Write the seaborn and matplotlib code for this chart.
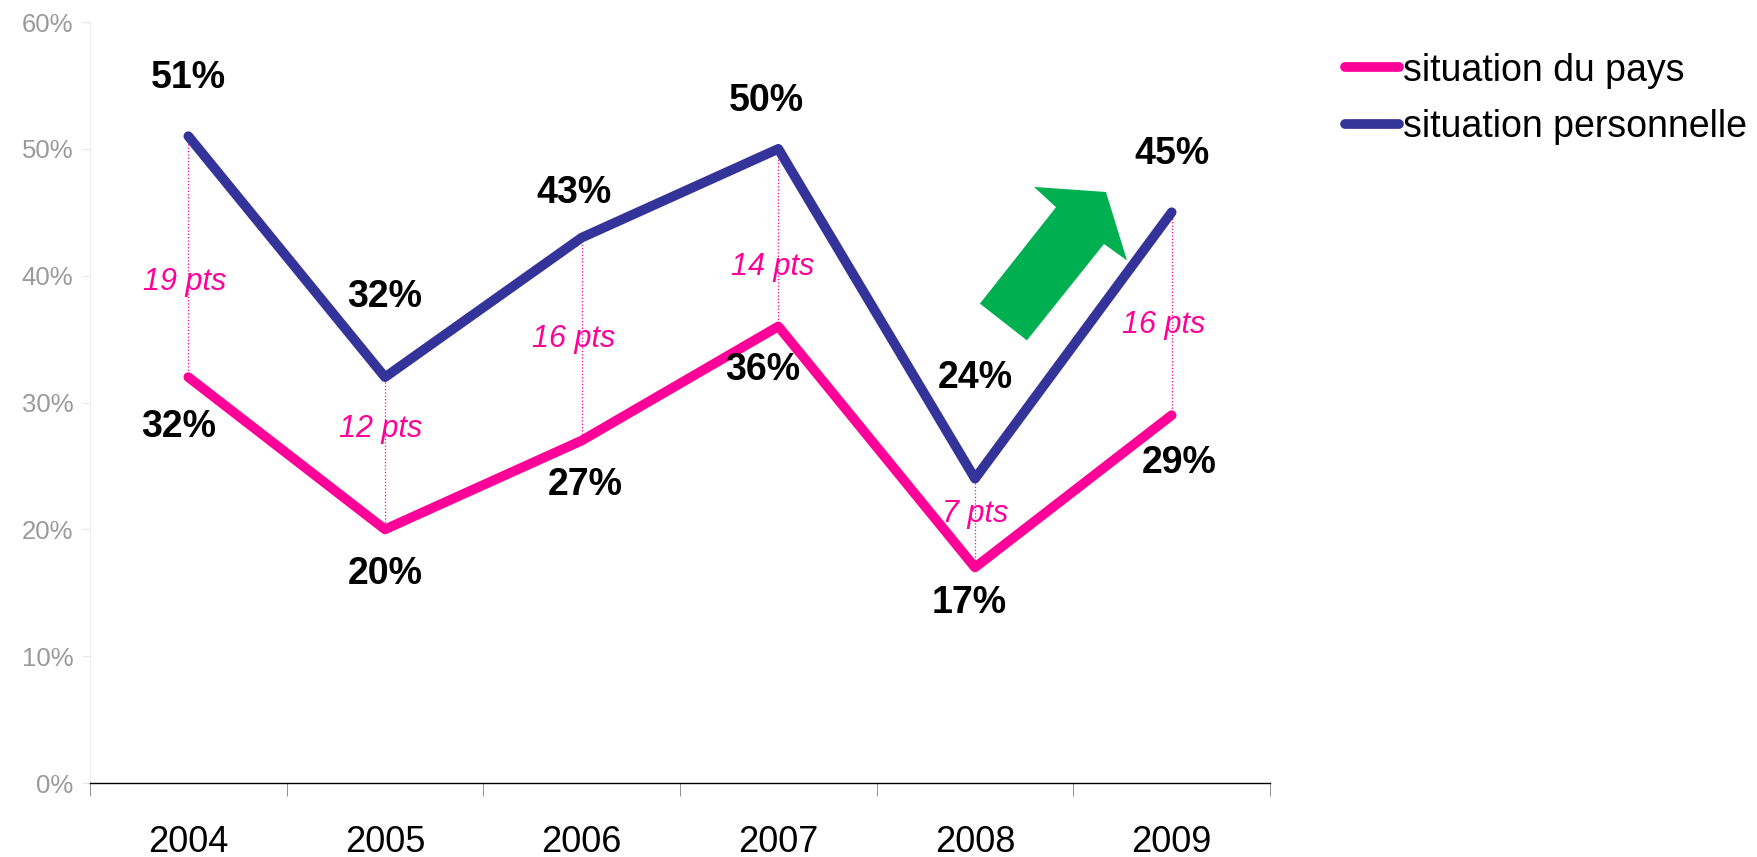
import numpy as np
import pandas as pd
import matplotlib
matplotlib.use("Agg")
import matplotlib.pyplot as plt
from matplotlib.patches import Polygon
from matplotlib.lines import Line2D
import seaborn as sns

# data
years = ["2004", "2005", "2006", "2007", "2008", "2009"]
pays = [32, 20, 27, 36, 17, 29]
perso = [51, 32, 43, 50, 24, 45]
series_names = ["situation du pays", "situation personnelle"]
ecarts = ["19 pts", "12 pts", "16 pts", "14 pts", "7 pts", "16 pts"]

# label placement (data units)
perso_lab_y = [55.6, 38.3, 46.5, 53.8, 31.9, 49.6]
perso_lab_dx = [0, 0, -0.04, -0.06, 0, 0]
pays_lab_y = [28.1, 16.5, 23.5, 32.6, 14.2, 25.2]
pays_lab_dx = [-0.05, 0, 0.02, -0.08, -0.03, 0.04]
ecart_lab_y = [39.5, 27.9, 35.0, 40.7, 21.2, 36.1]
ecart_lab_dx = [-0.02, -0.02, -0.04, -0.03, 0.0, -0.04]

pink = "#FF0099"
blue = "#333399"
green = "#00B050"

df = pd.DataFrame({
    "x": list(range(len(years))) * 2,
    "val": pays + perso,
    "serie": [series_names[0]] * len(years) + [series_names[1]] * len(years),
})

sns.set_style("white")
plt.rcParams["font.family"] = ["Liberation Sans", "DejaVu Sans"]

fig = plt.figure(figsize=(17.58, 8.57), dpi=100)
ax = fig.add_axes([0.0512, 0.0863, 0.6712, 0.888])

sns.lineplot(data=df, x="x", y="val", hue="serie",
             palette=[pink, blue], linewidth=7,
             solid_capstyle="round", ax=ax, legend=False)

# dotted gap lines
ax.vlines(range(len(years)), pays, perso, colors=pink,
          linestyles=":", linewidth=0.9, zorder=1)

for i in range(len(years)):
    ax.text(i + perso_lab_dx[i], perso_lab_y[i], f"{perso[i]}%",
            ha="center", va="center", fontsize=27, fontweight="bold", color="black")
    ax.text(i + pays_lab_dx[i], pays_lab_y[i], f"{pays[i]}%",
            ha="center", va="center", fontsize=27, fontweight="bold", color="black")
    ax.text(i + ecart_lab_dx[i], ecart_lab_y[i], ecarts[i],
            ha="center", va="center", fontsize=22, style="italic", color=pink)

# green arrow
arrow = Polygon([(4.025, 37.8), (4.264, 34.9), (4.656, 42.5), (4.773, 41.2),
                 (4.666, 46.6), (4.300, 47.0), (4.412, 45.4)],
                closed=True, facecolor=green, edgecolor="none", zorder=3)
ax.add_patch(arrow)

ax.set_xlim(-0.5, len(years) - 0.5)
ax.set_ylim(0, 60)
ax.set_yticks(np.arange(0, 61, 10))
ax.set_yticklabels([f"{v}%" for v in range(0, 61, 10)])
ax.set_xticks(range(len(years)))
ax.set_xticklabels(years)
ax.set_xticks(np.arange(-0.5, len(years), 1), minor=True)
ax.set_xlabel("")
ax.set_ylabel("")

ax.tick_params(axis="y", colors="#e6e6e6", labelcolor="#9a9a9a",
               labelsize=18.5, length=6, direction="out", left=True, pad=6)
ax.tick_params(axis="x", which="major", length=0, labelsize=26,
               labelcolor="black", pad=30)
ax.tick_params(axis="x", which="minor", length=9, color="#808080",
               direction="out", bottom=True)

for s in ["top", "right"]:
    ax.spines[s].set_visible(False)
ax.spines["left"].set_color("#eeeeee")
ax.spines["bottom"].set_color("black")
ax.spines["bottom"].set_linewidth(1.0)

handles = [Line2D([], [], color=pink, linewidth=7, solid_capstyle="round"),
           Line2D([], [], color=blue, linewidth=7, solid_capstyle="round")]
fig.legend(handles, series_names, loc="upper left",
           bbox_to_anchor=(0.7456, 0.978), frameon=False, fontsize=27,
           handlelength=1.45, handletextpad=0.1, labelspacing=0.54,
           labelcolor="black")

fig.savefig("out.png", dpi=100)
